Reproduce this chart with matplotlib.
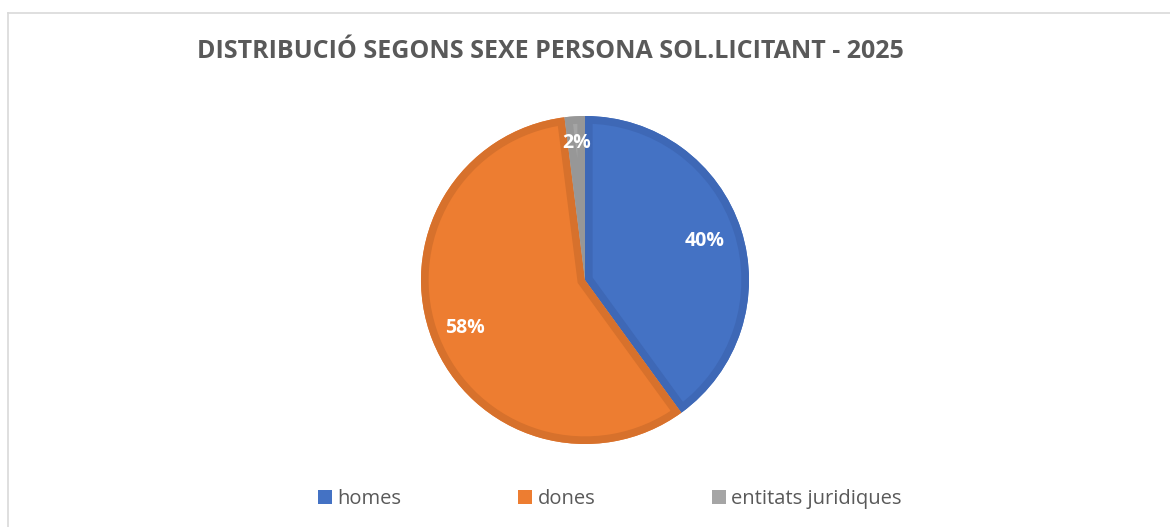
import matplotlib
matplotlib.use("Agg")
import matplotlib.pyplot as plt
import numpy as np
from matplotlib.lines import Line2D
from matplotlib.patches import Patch, Wedge

categories = ["homes", "dones", "entitats juridiques"]
values = [40, 58, 2]
labels = ["40%", "58%", "2%"]
face_colors = ["#4472C4", "#ED7D31", "#A5A5A5"]
edge_colors = ["#3E68B6", "#D7712C", "#979797"]
title = "DISTRIBUCIÓ SEGONS SEXE PERSONA SOL.LICITANT - 2025"

W, H = 1170, 527
fig = plt.figure(figsize=(W / 100, H / 100), dpi=100)

# frame border (top and left visible)
fig.add_artist(Line2D([8 / W, 8 / W], [0, 1 - 13 / H], transform=fig.transFigure,
                      color="#D9D9D9", lw=1.2))
fig.add_artist(Line2D([8 / W, 1], [1 - 13 / H, 1 - 13 / H], transform=fig.transFigure,
                      color="#D9D9D9", lw=1.2))

cx, cy, r = 585, H - 280, 164
ax = fig.add_axes([(cx - r) / W, (cy - r) / H, 2 * r / W, 2 * r / H])
wedges, _ = ax.pie(values, colors=face_colors, startangle=90, counterclock=False,
                   radius=1.0, wedgeprops={"linewidth": 0})
for w, ec in zip(wedges, edge_colors):
    outline = Wedge(w.center, w.r, w.theta1, w.theta2, facecolor="none",
                    edgecolor=ec, linewidth=11)
    ax.add_patch(outline)
    outline.set_clip_path(w)
ax.set_xlim(-1, 1)
ax.set_ylim(-1, 1)
ax.set_aspect("equal")
ax.axis("off")

dists = [0.77, 0.79, 0.84]
theta0 = 90.0
for v, lab, d in zip(values, labels, dists):
    mid = theta0 - v * 360 / sum(values) / 2
    theta0 -= v * 360 / sum(values)
    ax.text(d * np.cos(np.radians(mid)), d * np.sin(np.radians(mid)), lab,
            ha="center", va="center", color="white", fontsize=14,
            fontweight="bold", family="Open Sans")

fig.text(550 / W, 1 - 51 / H, title, ha="center", va="center", fontsize=18,
         fontweight="bold", color="#595959", family="Open Sans")

handles = [Patch(facecolor=c, edgecolor="none") for c in face_colors]
leg = fig.legend(handles, categories, loc="center", bbox_to_anchor=(610 / W, 1 - 499 / H),
                 ncol=3, frameon=False, prop={"family": "Open Sans", "size": 14.5},
                 handlelength=0.7, handleheight=0.7, handletextpad=0.25,
                 columnspacing=5.8)
for t in leg.get_texts():
    t.set_color("#595959")

fig.savefig("out.png", dpi=100)
